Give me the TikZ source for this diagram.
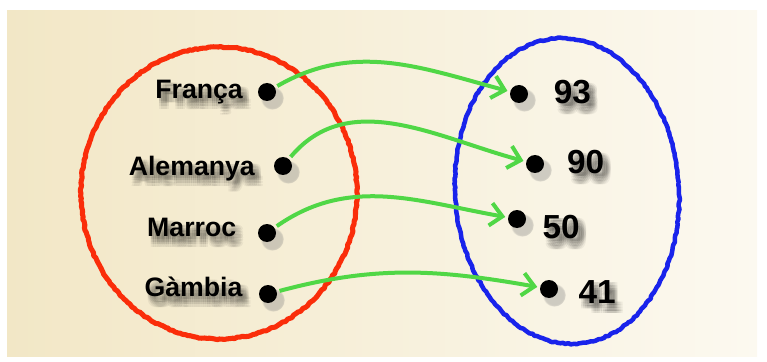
\documentclass[tikz,border=0pt]{standalone}
\usepackage{fontspec}
\setmainfont{Liberation Sans}
\usepackage{tikz}
\usetikzlibrary{positioning, arrows.meta, shadows, decorations.pathmorphing}
\definecolor{paperleft}{RGB}{242,231,198}
\definecolor{paperright}{RGB}{252,249,240}
\definecolor{crayonred}{RGB}{250,45,10}
\definecolor{crayonblue}{RGB}{25,35,235}
\definecolor{crayongreen}{RGB}{80,215,70}
\tikzstyle{dot} = [circle, fill=black, inner sep=0pt, minimum size=13.5pt,
  circular drop shadow={shadow xshift=3pt, shadow yshift=-3.5pt, opacity=.35, shadow scale=1.3}]
\tikzstyle{country} = [inner sep=0pt, font=\bfseries\fontsize{20}{20}\selectfont]
\tikzstyle{value} = [inner sep=0pt, font=\bfseries\fontsize{25}{25}\selectfont]
\tikzstyle{crayon} = [decorate, decoration={random steps, segment length=2pt, amplitude=.5pt}, line join=round]
\tikzstyle{maparrow} = [crayongreen, line width=3pt, -{Straight Barb[length=9pt,width=17pt]}, shorten <=2pt, shorten >=2pt]

\begin{document}
\begin{tikzpicture}[x=0.75pt, y=0.75pt]
        \useasboundingbox (0,0) rectangle (767,361);
        \shade[left color=paperleft, right color=paperright] (7,5) rectangle (757,350);
        % countries
        \node[dot] (p1) at (267,269) {};
        \node[dot] (p2) at (283,195) {};
        \node[dot] (p3) at (267,128) {};
        \node[dot] (p4) at (268,67) {};
        \node[country, left=11pt of p1] (c1) {França};
        \node[country, left=14pt of p2, yshift=-2pt] (c2) {Alemanya};
        \node[country, left=16pt of p3, yshift=4pt] (c3) {Marroc};
        \node[country, left=12pt of p4, yshift=5pt] (c4) {Gàmbia};
        % values
        \node[dot] (v1) at (519,267) {};
        \node[dot] (v2) at (535,197) {};
        \node[dot] (v3) at (517,142) {};
        \node[dot] (v4) at (549,72) {};
        \node[value, right=19pt of v1, yshift=1.5pt] (n1) {93};
        \node[value, right=17pt of v2, yshift=1.5pt] (n2) {90};
        \node[value, right=12pt of v3, yshift=-6pt] (n3) {50};
        \node[value, right=15pt of v4, yshift=-2pt] (n4) {41};
        % soft shadows under the texts
        \foreach \nm/\tx in {c1/França, c2/Alemanya, c3/Marroc, c4/Gàmbia}
            \foreach \sx in {1.5,3,4.5,6}
                \foreach \sy in {2,4,6,8}
                    \node[country, text opacity=.05] at ([shift={(\sx pt,-\sy pt)}]\nm.center) {\tx};
        \foreach \nm/\tx in {n1/93, n2/90, n3/50, n4/41}
            \foreach \sx in {1.5,3,4.5,6}
                \foreach \sy in {2,4,6,8}
                    \node[value, text opacity=.05] at ([shift={(\sx pt,-\sy pt)}]\nm.center) {\tx};
        % sets
        \draw[crayon, crayonred, line width=3.8pt] (219,168) ellipse (138 and 146);
        \draw[crayon, crayonblue, line width=3.4pt, rotate around={4:(567,170)}] (567,170) ellipse (112 and 153);
        % mapping
        \draw[maparrow] (p1) to[out=30, in=165] (v1);
        \draw[maparrow] (p2) to[out=50, in=165] (v2);
        \draw[maparrow] (p3) to[out=35, in=170] (v3);
        \draw[maparrow] (p4) to[out=15, in=170] (v4);
\end{tikzpicture}
\end{document}
